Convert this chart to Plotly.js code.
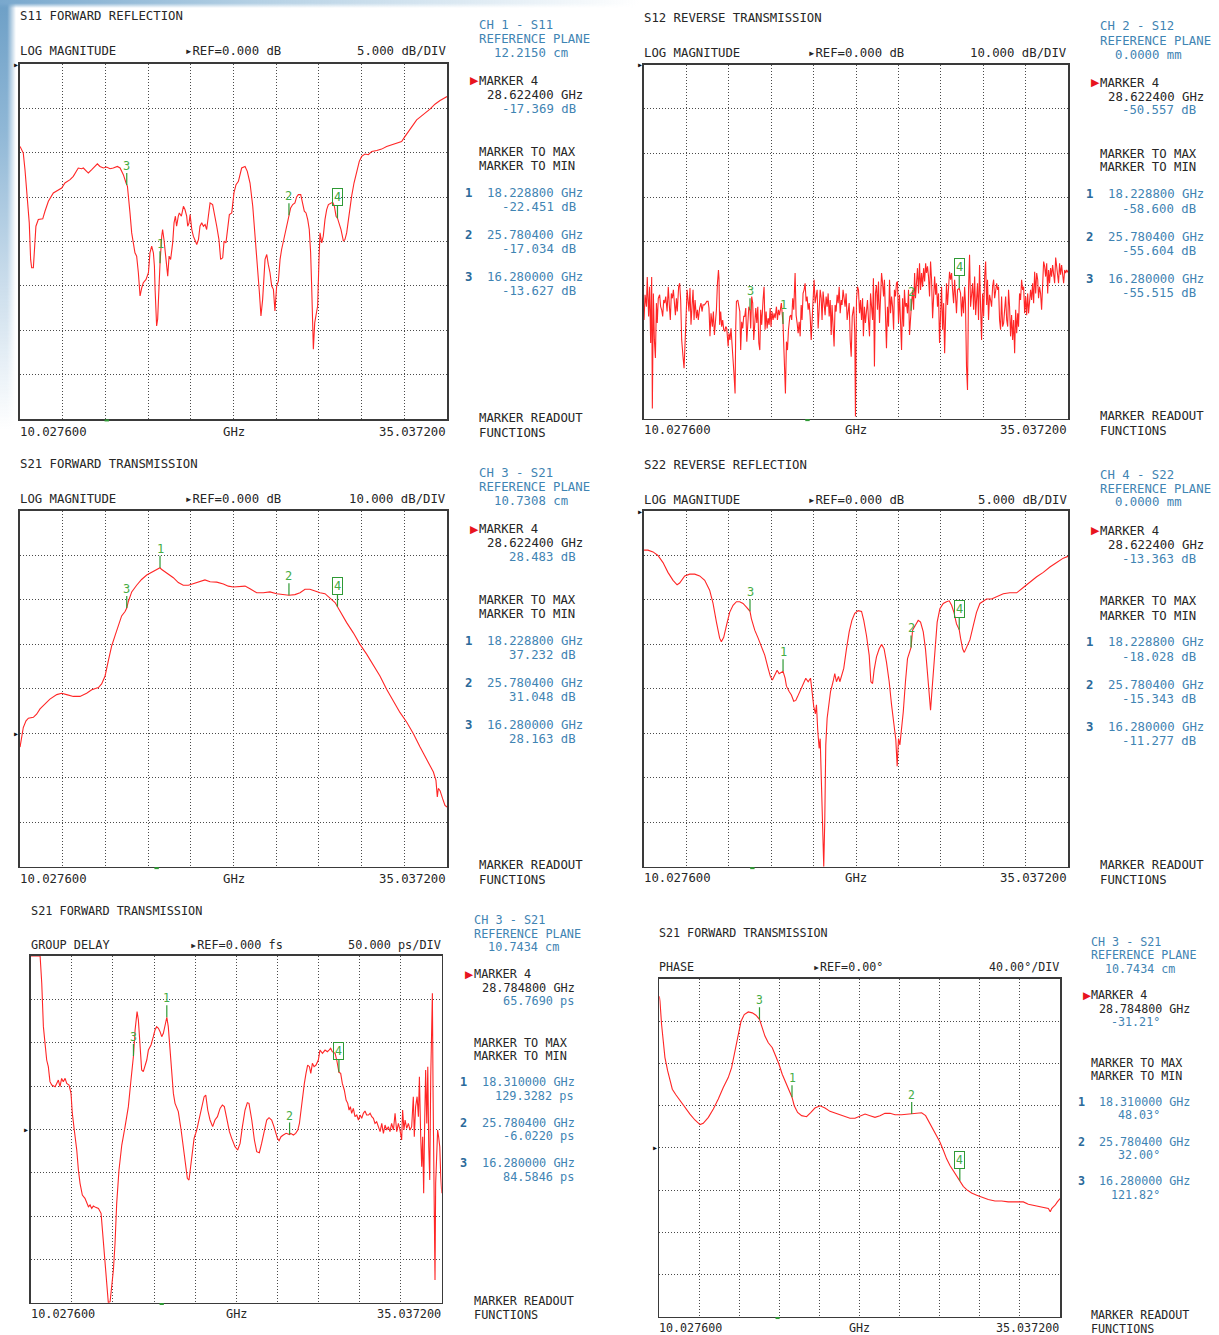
<!DOCTYPE html>
<html>
<head>
<meta charset="utf-8">
<script src="https://cdn.plot.ly/plotly-3.0.1.min.js"></script>
<style>
  html, body { margin: 0; padding: 0; background: #ffffff; }
  body { width: 1219px; height: 1335px; overflow: hidden; position: relative; }
  #bgLeft {
    position: absolute; left: 0; top: 0; width: 16px; height: 430px;
    background: linear-gradient(to bottom, #6d9fc6 0%, #8fb7d6 30%, #c9dceb 65%, rgba(255,255,255,0) 100%);
    -webkit-mask-image: linear-gradient(to right, #000 45%, rgba(0,0,0,0) 100%);
    mask-image: linear-gradient(to right, #000 45%, rgba(0,0,0,0) 100%);
  }
  #bgTop {
    position: absolute; left: 0; top: 0; width: 640px; height: 8px;
    background: linear-gradient(to right, #79a8cd 0%, #b4d0e4 40%, rgba(255,255,255,0) 100%);
    -webkit-mask-image: linear-gradient(to bottom, #000 40%, rgba(0,0,0,0) 100%);
    mask-image: linear-gradient(to bottom, #000 40%, rgba(0,0,0,0) 100%);
  }
  #chart { position: absolute; left: 0; top: 0; width: 1219px; height: 1335px; }
</style>
</head>
<body>
<div id="bgLeft"></div>
<div id="bgTop"></div>
<div id="chart"></div>
<script>
// ---- Sweep (GHz) ----
const sweepGHz = [10.0276, 35.0372];

// ---- Measured traces: [frequency GHz, value] ----
const s11 = [[10.03,-9.29],[10.22,-10.04],[10.32,-11.91],[10.46,-15.28],[10.57,-17.90],[10.65,-22.02],[10.71,-22.96],[10.81,-22.96],[10.91,-19.78],[10.96,-18.28],[11.10,-17.53],[11.36,-17.45],[11.49,-16.59],[11.69,-15.47],[11.98,-14.53],[12.27,-14.16],[12.47,-13.97],[12.66,-13.41],[12.96,-13.03],[13.15,-12.66],[13.44,-11.72],[13.64,-11.80],[13.74,-11.72],[13.93,-12.10],[14.03,-12.28],[14.23,-11.91],[14.42,-11.54],[14.56,-11.24],[14.71,-11.54],[14.91,-11.72],[15.10,-11.61],[15.30,-11.80],[15.49,-11.72],[15.73,-11.54],[15.89,-11.72],[16.08,-12.47],[16.24,-13.41],[16.28,-13.627],[16.32,-13.78],[16.47,-16.78],[16.57,-19.03],[16.76,-21.27],[16.86,-21.65],[16.96,-23.52],[17.06,-26.14],[17.16,-25.21],[17.25,-24.64],[17.41,-24.27],[17.55,-23.52],[17.64,-21.27],[17.74,-20.52],[17.84,-21.27],[17.90,-22.77],[17.94,-25.39],[18.00,-27.27],[18.03,-29.51],[18.09,-28.76],[18.19,-22.77],[18.2288,-22.451],[18.33,-19.40],[18.38,-18.65],[18.46,-19.78],[18.54,-21.27],[18.62,-22.02],[18.68,-23.90],[18.76,-21.65],[18.85,-22.02],[18.97,-20.15],[19.05,-17.90],[19.13,-17.15],[19.20,-18.28],[19.30,-17.15],[19.36,-16.78],[19.48,-17.15],[19.60,-16.03],[19.69,-16.40],[19.79,-17.15],[19.85,-18.28],[19.93,-17.90],[19.99,-16.97],[20.09,-18.65],[20.18,-19.40],[20.28,-19.78],[20.38,-20.34],[20.48,-19.78],[20.57,-18.28],[20.67,-17.90],[20.77,-18.28],[20.87,-18.09],[20.96,-18.65],[21.06,-17.15],[21.16,-15.66],[21.31,-15.84],[21.41,-16.78],[21.55,-18.28],[21.68,-19.78],[21.78,-22.02],[21.90,-21.84],[21.98,-19.96],[22.09,-20.15],[22.17,-19.03],[22.29,-16.97],[22.43,-16.78],[22.56,-14.53],[22.68,-13.60],[22.82,-13.22],[23.01,-11.72],[23.21,-11.54],[23.34,-12.10],[23.50,-13.41],[23.66,-16.03],[23.79,-19.03],[23.93,-22.77],[24.05,-25.77],[24.14,-28.39],[24.24,-26.52],[24.38,-22.02],[24.48,-21.46],[24.57,-22.58],[24.67,-23.52],[24.77,-25.02],[24.87,-25.39],[24.96,-27.83],[25.06,-25.02],[25.16,-24.46],[25.26,-22.02],[25.35,-20.90],[25.45,-19.96],[25.55,-19.40],[25.65,-18.28],[25.7804,-17.034],[25.88,-16.22],[26.00,-15.84],[26.13,-15.66],[26.23,-14.98],[26.33,-14.72],[26.47,-14.72],[26.58,-15.66],[26.68,-16.59],[26.78,-16.78],[26.88,-17.53],[26.97,-18.65],[27.05,-21.27],[27.11,-25.02],[27.17,-29.51],[27.21,-32.13],[27.29,-29.14],[27.36,-28.39],[27.46,-27.27],[27.54,-22.02],[27.60,-19.03],[27.70,-20.15],[27.79,-19.40],[27.89,-17.53],[27.99,-16.40],[28.09,-15.84],[28.22,-15.66],[28.34,-15.58],[28.44,-16.03],[28.54,-17.15],[28.6224,-17.369],[28.73,-18.09],[28.83,-18.65],[28.97,-19.96],[29.06,-19.78],[29.16,-19.03],[29.26,-17.53],[29.36,-16.03],[29.45,-14.91],[29.59,-13.41],[29.75,-12.28],[29.90,-10.97],[30.04,-10.41],[30.23,-10.15],[30.43,-10.22],[30.63,-9.85],[30.92,-9.74],[31.21,-9.59],[31.50,-9.29],[31.80,-9.10],[32.09,-8.99],[32.38,-8.73],[32.58,-8.16],[32.77,-7.60],[32.97,-7.04],[33.26,-6.29],[33.46,-5.99],[33.75,-5.54],[34.04,-5.09],[34.33,-4.53],[34.63,-4.12],[35.04,-3.67]];

const s12 = [[10.03,-57.7],[10.09,-52.0],[10.17,-54.7],[10.22,-48.0],[10.30,-56.9],[10.36,-50.2],[10.42,-62.9],[10.48,-48.0],[10.52,-77.7],[10.58,-51.7],[10.64,-62.2],[10.70,-66.3],[10.76,-53.9],[10.81,-58.4],[10.87,-52.8],[10.95,-52.0],[11.01,-54.7],[11.07,-55.4],[11.13,-56.9],[11.19,-53.2],[11.25,-53.9],[11.31,-52.4],[11.39,-55.8],[11.46,-50.2],[11.52,-54.3],[11.58,-57.7],[11.64,-51.7],[11.70,-52.8],[11.76,-50.9],[11.82,-53.9],[11.88,-56.6],[11.94,-52.8],[11.99,-55.8],[12.07,-50.2],[12.13,-49.4],[12.19,-53.2],[12.25,-62.2],[12.33,-66.0],[12.39,-68.6],[12.45,-62.9],[12.51,-54.7],[12.57,-50.9],[12.63,-53.5],[12.68,-55.8],[12.74,-50.5],[12.80,-58.8],[12.86,-54.7],[12.92,-50.9],[12.98,-57.7],[13.04,-53.2],[13.12,-57.3],[13.18,-55.4],[13.23,-57.7],[13.31,-55.0],[13.39,-53.9],[13.45,-55.8],[13.51,-54.3],[13.59,-54.3],[13.67,-53.9],[13.73,-53.5],[13.81,-53.5],[13.86,-55.0],[13.92,-61.4],[13.98,-56.2],[14.06,-59.2],[14.12,-55.8],[14.18,-61.1],[14.24,-57.7],[14.30,-55.4],[14.36,-49.4],[14.42,-46.4],[14.45,-48.3],[14.49,-58.8],[14.55,-55.8],[14.61,-59.2],[14.67,-57.7],[14.73,-59.9],[14.79,-60.3],[14.85,-59.2],[14.91,-59.6],[14.99,-63.7],[15.04,-60.7],[15.10,-62.2],[15.16,-59.6],[15.22,-64.5],[15.28,-66.7],[15.34,-70.1],[15.40,-74.3],[15.44,-59.2],[15.48,-53.5],[15.56,-53.2],[15.62,-54.7],[15.68,-55.8],[15.73,-64.5],[15.79,-58.1],[15.85,-59.6],[15.91,-56.9],[15.97,-56.9],[16.03,-55.0],[16.09,-62.6],[16.15,-56.6],[16.21,-54.7],[16.28,-55.515],[16.32,-59.6],[16.38,-52.4],[16.44,-53.9],[16.50,-62.2],[16.56,-56.9],[16.62,-55.0],[16.68,-58.4],[16.74,-54.7],[16.80,-62.9],[16.86,-64.5],[16.91,-55.4],[16.97,-58.8],[17.05,-53.2],[17.11,-50.2],[17.17,-59.9],[17.23,-55.8],[17.29,-59.6],[17.35,-57.3],[17.41,-58.8],[17.47,-55.0],[17.52,-59.2],[17.58,-55.8],[17.64,-57.7],[17.70,-56.2],[17.76,-57.3],[17.84,-54.7],[17.90,-57.7],[17.96,-55.4],[18.02,-56.6],[18.07,-55.4],[18.13,-53.9],[18.2288,-58.6],[18.31,-66.7],[18.37,-74.3],[18.43,-62.6],[18.49,-64.5],[18.55,-59.9],[18.63,-56.9],[18.69,-56.6],[18.74,-57.7],[18.80,-52.8],[18.86,-55.4],[18.94,-47.1],[19.00,-56.6],[19.06,-58.4],[19.12,-60.7],[19.18,-58.1],[19.24,-61.4],[19.30,-54.3],[19.35,-57.7],[19.41,-51.7],[19.47,-50.9],[19.53,-49.4],[19.59,-53.5],[19.65,-52.4],[19.71,-55.4],[19.77,-53.9],[19.83,-56.9],[19.89,-62.2],[19.94,-57.7],[20.00,-55.0],[20.06,-48.6],[20.12,-53.9],[20.18,-52.4],[20.24,-50.9],[20.30,-59.6],[20.36,-55.4],[20.42,-50.9],[20.48,-52.8],[20.53,-57.7],[20.59,-51.3],[20.65,-53.5],[20.71,-56.6],[20.77,-52.4],[20.83,-54.7],[20.89,-51.7],[20.95,-56.9],[21.01,-53.2],[21.07,-61.1],[21.12,-54.3],[21.18,-58.4],[21.24,-63.7],[21.30,-54.3],[21.36,-55.8],[21.42,-52.0],[21.48,-53.9],[21.54,-50.2],[21.60,-56.2],[21.66,-53.2],[21.71,-54.3],[21.77,-50.9],[21.83,-53.9],[21.89,-54.7],[21.95,-51.7],[22.01,-57.7],[22.07,-55.8],[22.13,-53.9],[22.19,-62.2],[22.25,-66.0],[22.31,-56.9],[22.36,-55.8],[22.40,-54.7],[22.46,-60.7],[22.50,-79.5],[22.56,-53.2],[22.62,-50.2],[22.68,-50.9],[22.74,-56.2],[22.80,-53.2],[22.86,-57.7],[22.92,-52.8],[22.97,-61.4],[23.03,-54.7],[23.09,-58.4],[23.15,-55.8],[23.21,-53.2],[23.27,-57.7],[23.33,-61.4],[23.39,-51.7],[23.45,-55.4],[23.51,-57.7],[23.56,-48.3],[23.62,-68.2],[23.68,-51.7],[23.74,-49.8],[23.80,-55.4],[23.86,-49.0],[23.92,-58.4],[23.98,-50.2],[24.04,-47.1],[24.10,-49.4],[24.16,-52.4],[24.21,-48.6],[24.27,-58.4],[24.33,-64.1],[24.39,-54.7],[24.45,-59.2],[24.51,-48.6],[24.57,-56.2],[24.63,-52.4],[24.69,-54.7],[24.75,-59.9],[24.80,-50.9],[24.86,-52.4],[24.92,-49.4],[24.98,-49.0],[25.04,-58.4],[25.10,-52.0],[25.16,-57.7],[25.22,-64.5],[25.28,-52.8],[25.34,-59.2],[25.39,-50.9],[25.45,-54.7],[25.51,-53.9],[25.57,-56.2],[25.63,-50.9],[25.69,-61.1],[25.7804,-55.604],[25.87,-50.9],[25.93,-55.4],[25.99,-47.1],[26.04,-52.8],[26.10,-48.6],[26.16,-46.0],[26.22,-51.7],[26.28,-44.9],[26.34,-50.9],[26.40,-47.1],[26.46,-50.2],[26.52,-46.0],[26.58,-49.0],[26.64,-44.9],[26.69,-47.1],[26.75,-45.6],[26.81,-47.9],[26.87,-52.4],[26.93,-44.5],[26.99,-48.6],[27.05,-57.3],[27.11,-52.8],[27.17,-47.9],[27.23,-52.0],[27.28,-49.4],[27.34,-54.7],[27.40,-51.7],[27.46,-62.9],[27.52,-55.4],[27.58,-50.2],[27.64,-59.9],[27.70,-53.9],[27.76,-65.2],[27.82,-54.7],[27.87,-49.4],[27.93,-54.3],[27.99,-50.2],[28.05,-46.8],[28.11,-48.6],[28.17,-47.1],[28.23,-50.9],[28.29,-53.9],[28.35,-48.6],[28.41,-54.7],[28.46,-56.2],[28.52,-50.9],[28.58,-50.5],[28.6224,-50.557],[28.70,-51.7],[28.76,-56.9],[28.82,-52.4],[28.88,-56.2],[28.94,-50.2],[28.99,-53.9],[29.05,-68.2],[29.11,-73.5],[29.17,-50.9],[29.23,-43.0],[29.29,-54.7],[29.35,-50.9],[29.41,-49.4],[29.47,-55.4],[29.53,-47.9],[29.59,-56.6],[29.65,-52.0],[29.70,-49.4],[29.76,-57.7],[29.82,-45.3],[29.88,-54.7],[29.94,-62.2],[30.00,-51.7],[30.06,-56.9],[30.12,-47.9],[30.18,-44.5],[30.24,-54.3],[30.29,-48.6],[30.35,-57.7],[30.41,-52.0],[30.47,-53.2],[30.53,-54.7],[30.59,-50.2],[30.65,-48.6],[30.71,-52.8],[30.77,-50.2],[30.83,-49.4],[30.89,-50.9],[30.94,-50.2],[31.00,-57.7],[31.06,-59.9],[31.12,-52.4],[31.18,-59.2],[31.24,-58.4],[31.30,-54.7],[31.36,-52.4],[31.42,-57.7],[31.48,-59.2],[31.53,-50.9],[31.59,-54.7],[31.65,-61.4],[31.71,-56.6],[31.77,-62.2],[31.83,-57.7],[31.89,-65.2],[31.95,-55.4],[32.01,-60.7],[32.07,-56.2],[32.12,-59.2],[32.18,-51.7],[32.24,-53.2],[32.30,-48.6],[32.36,-50.9],[32.42,-50.2],[32.48,-56.2],[32.54,-52.4],[32.60,-56.6],[32.66,-51.7],[32.71,-56.2],[32.77,-53.9],[32.83,-50.9],[32.89,-53.2],[32.95,-49.4],[33.01,-53.9],[33.07,-46.8],[33.13,-51.7],[33.19,-47.1],[33.25,-48.6],[33.30,-52.8],[33.36,-50.2],[33.42,-51.7],[33.48,-55.4],[33.54,-47.9],[33.60,-44.5],[33.66,-45.6],[33.72,-47.9],[33.78,-44.9],[33.84,-51.7],[33.89,-46.4],[33.95,-49.4],[34.01,-46.0],[34.07,-47.9],[34.13,-45.3],[34.19,-48.3],[34.25,-49.4],[34.31,-43.6],[34.37,-46.0],[34.43,-46.8],[34.48,-49.4],[34.54,-44.9],[34.60,-47.5],[34.66,-45.3],[34.72,-47.1],[34.78,-49.4],[34.84,-46.4],[34.90,-47.1],[34.96,-46.4],[35.04,-47.0]];

const s21 = [[10.03,-3.1],[10.12,-0.9],[10.22,1.3],[10.38,2.8],[10.52,3.4],[10.81,3.6],[11.00,4.3],[11.20,5.5],[11.49,6.7],[11.78,7.7],[12.18,8.7],[12.47,9.0],[12.76,8.7],[13.15,8.3],[13.54,8.3],[13.93,9.0],[14.23,9.8],[14.62,10.3],[14.81,11.1],[15.01,12.9],[15.20,16.3],[15.40,19.7],[15.59,21.9],[15.79,24.5],[15.98,26.4],[16.18,27.4],[16.28,28.163],[16.37,29.6],[16.57,31.8],[16.86,33.3],[17.15,34.6],[17.45,35.6],[17.84,36.5],[18.2288,37.232],[18.31,36.9],[18.62,36.1],[19.01,35.0],[19.30,33.9],[19.59,33.3],[19.89,33.3],[20.18,33.7],[20.57,34.2],[20.86,34.5],[21.16,34.1],[21.55,34.0],[21.94,33.6],[22.23,33.1],[22.52,32.9],[22.91,33.0],[23.21,33.1],[23.50,32.5],[23.89,31.6],[24.28,31.6],[24.67,31.8],[25.06,31.4],[25.45,31.2],[25.7804,31.048],[26.13,31.2],[26.43,31.6],[26.72,32.4],[27.01,32.4],[27.31,32.0],[27.60,31.6],[27.89,31.4],[28.18,30.5],[28.48,29.4],[28.6224,28.483],[28.87,26.8],[29.16,24.9],[29.55,22.6],[29.94,20.0],[30.33,17.8],[30.72,15.5],[31.11,12.9],[31.50,9.9],[31.89,7.3],[32.28,4.7],[32.68,2.5],[33.07,-0.1],[33.46,-3.1],[33.85,-5.8],[34.24,-8.7],[34.39,-10.6],[34.47,-14.3],[34.53,-12.4],[34.63,-12.9],[34.78,-14.7],[34.92,-16.2],[35.04,-16.6]];

const s22 = [[10.03,-4.4],[10.26,-4.4],[10.56,-4.6],[10.85,-5.0],[11.15,-5.8],[11.44,-6.9],[11.74,-7.8],[11.98,-8.3],[12.13,-8.1],[12.43,-7.3],[12.72,-7.1],[13.02,-7.1],[13.31,-7.3],[13.61,-7.8],[13.90,-8.9],[14.10,-10.4],[14.30,-12.5],[14.49,-14.3],[14.59,-14.7],[14.73,-14.2],[14.89,-12.9],[15.08,-11.4],[15.28,-10.6],[15.48,-10.2],[15.67,-10.2],[15.87,-10.4],[16.07,-10.8],[16.28,-11.277],[16.36,-12.1],[16.56,-13.4],[16.76,-14.3],[16.95,-15.3],[17.15,-16.2],[17.35,-17.7],[17.48,-18.6],[17.60,-19.0],[17.74,-18.5],[17.88,-17.9],[18.00,-18.3],[18.12,-18.1],[18.2288,-18.028],[18.35,-18.8],[18.43,-19.7],[18.59,-20.3],[18.72,-20.7],[18.86,-21.4],[18.98,-21.3],[19.08,-20.9],[19.22,-20.3],[19.35,-19.7],[19.45,-19.2],[19.57,-18.8],[19.71,-19.2],[19.85,-18.8],[19.94,-20.3],[20.04,-22.0],[20.14,-22.8],[20.20,-21.8],[20.28,-24.8],[20.36,-26.7],[20.42,-25.6],[20.48,-30.0],[20.53,-33.4],[20.59,-37.5],[20.63,-40.0],[20.69,-34.9],[20.75,-26.3],[20.83,-23.3],[20.93,-21.8],[21.03,-20.3],[21.18,-19.2],[21.28,-18.3],[21.38,-19.2],[21.50,-18.6],[21.58,-19.2],[21.68,-18.5],[21.81,-17.7],[21.97,-15.5],[22.13,-13.6],[22.29,-12.3],[22.46,-11.5],[22.66,-11.2],[22.86,-11.3],[22.99,-12.3],[23.15,-14.0],[23.31,-16.2],[23.41,-19.2],[23.51,-19.4],[23.60,-17.9],[23.74,-16.4],[23.90,-15.5],[24.04,-15.0],[24.19,-15.5],[24.33,-17.0],[24.49,-19.2],[24.63,-21.8],[24.76,-23.7],[24.88,-25.7],[24.96,-28.7],[25.04,-25.6],[25.12,-26.3],[25.20,-24.8],[25.32,-22.6],[25.45,-19.2],[25.57,-16.6],[25.7804,-15.343],[25.87,-13.4],[26.02,-12.9],[26.20,-12.3],[26.34,-12.5],[26.50,-13.6],[26.63,-15.5],[26.75,-18.1],[26.85,-20.3],[26.93,-22.4],[27.01,-20.3],[27.09,-18.5],[27.20,-15.1],[27.32,-12.5],[27.48,-11.0],[27.68,-10.4],[27.87,-10.2],[28.03,-10.1],[28.17,-10.6],[28.31,-11.4],[28.46,-12.7],[28.6224,-13.363],[28.70,-14.3],[28.82,-15.5],[28.92,-15.9],[29.05,-15.3],[29.25,-14.5],[29.45,-12.9],[29.64,-11.4],[29.84,-10.4],[30.04,-10.1],[30.23,-9.9],[30.53,-9.9],[30.83,-9.6],[31.22,-9.3],[31.61,-9.2],[32.01,-9.2],[32.40,-8.6],[32.79,-8.0],[33.19,-7.4],[33.58,-6.9],[33.97,-6.3],[34.37,-5.8],[34.76,-5.3],[35.04,-5.1]];

// group delay in ps (display limited to +/-200 ps)
const s21Delay = [[10.03,200],[10.60,200],[10.70,168.5],[10.80,118.5],[10.90,99.2],[11.00,80.0],[11.10,72.3],[11.20,55.0],[11.31,51.2],[11.51,49.2],[11.61,53.0],[11.71,56.9],[11.81,49.2],[11.91,58.8],[12.01,55.0],[12.12,58.8],[12.22,53.0],[12.36,51.2],[12.48,41.5],[12.56,18.5],[12.68,-0.8],[12.83,-23.8],[12.93,-46.9],[13.03,-62.3],[13.17,-75.8],[13.33,-79.6],[13.54,-89.2],[13.64,-87.3],[13.74,-91.2],[13.84,-88.5],[13.98,-90.0],[14.15,-91.2],[14.31,-96.9],[14.45,-131.5],[14.55,-158.5],[14.65,-185.4],[14.75,-200],[14.86,-198.8],[14.96,-177.7],[15.06,-162.3],[15.16,-131.5],[15.26,-85.4],[15.40,-46.9],[15.57,-18.1],[15.77,3.1],[15.97,26.2],[16.13,56.9],[16.28,84.5846],[16.38,114.6],[16.50,135.8],[16.58,126.2],[16.68,95.4],[16.78,68.5],[16.88,66.5],[16.98,72.3],[17.09,80.0],[17.19,91.5],[17.35,97.3],[17.49,106.9],[17.59,114.6],[17.69,118.5],[17.80,116.5],[17.90,112.7],[18.00,106.9],[18.10,110.8],[18.20,118.5],[18.31,129.3282],[18.40,118.5],[18.51,91.5],[18.61,64.6],[18.71,41.5],[18.81,30.0],[19.01,20.4],[19.18,-0.8],[19.32,-20.0],[19.46,-39.2],[19.56,-56.5],[19.66,-58.5],[19.82,-35.4],[19.97,-10.4],[20.13,-0.8],[20.27,10.8],[20.43,22.3],[20.58,37.7],[20.68,39.6],[20.80,22.3],[20.94,10.8],[21.10,3.1],[21.24,10.8],[21.39,14.6],[21.55,24.2],[21.69,28.1],[21.81,26.2],[21.95,12.7],[22.12,-2.7],[22.26,-10.4],[22.46,-20.0],[22.62,-23.8],[22.77,-16.2],[22.91,3.1],[23.07,22.3],[23.21,30.8],[23.31,30.0],[23.48,10.8],[23.64,-12.3],[23.78,-25.8],[23.94,-26.9],[24.08,-16.2],[24.25,-2.7],[24.39,10.8],[24.53,13.5],[24.69,10.8],[24.83,3.1],[24.94,-4.6],[25.04,-10.4],[25.14,-13.1],[25.26,-8.5],[25.40,-6.5],[25.57,-4.6],[25.7804,-6.022],[25.85,-4.6],[26.01,-6.5],[26.15,-4.6],[26.28,-0.8],[26.38,6.9],[26.48,22.3],[26.58,41.5],[26.68,53.0],[26.78,64.6],[26.88,74.2],[26.99,72.3],[27.07,64.6],[27.17,76.2],[27.27,72.3],[27.39,74.2],[27.53,80.0],[27.63,91.5],[27.78,87.7],[27.94,91.5],[28.08,89.6],[28.18,91.5],[28.28,93.5],[28.38,89.6],[28.55,87.7],[28.65,80.0],[28.7848,65.769],[28.89,64.6],[28.99,53.0],[29.11,45.4],[29.22,33.8],[29.32,30.0],[29.40,22.3],[29.48,26.2],[29.56,18.5],[29.66,24.2],[29.76,14.6],[29.87,16.5],[29.97,10.8],[30.07,16.5],[30.17,12.7],[30.27,18.5],[30.37,21.2],[30.47,16.5],[30.58,16.5],[30.68,18.5],[30.78,14.6],[30.88,12.7],[30.98,6.9],[31.08,8.8],[31.18,3.1],[31.29,-2.7],[31.39,6.9],[31.49,-4.6],[31.59,5.0],[31.69,-0.8],[31.79,3.1],[31.89,-2.7],[31.99,6.9],[32.10,-0.8],[32.20,18.5],[32.30,-2.7],[32.40,6.9],[32.50,-0.8],[32.60,-12.3],[32.66,22.3],[32.74,-0.8],[32.81,10.8],[32.91,1.2],[33.01,6.9],[33.11,-0.8],[33.21,3.1],[33.31,37.7],[33.37,-8.5],[33.45,26.2],[33.54,37.7],[33.62,14.6],[33.68,60.8],[33.76,-8.5],[33.82,-43.1],[33.88,-8.5],[33.94,-73.8],[34.00,6.9],[34.06,68.5],[34.13,6.9],[34.19,72.3],[34.25,-20.0],[34.31,-58.5],[34.37,60.8],[34.43,118.5],[34.47,156.9],[34.51,45.4],[34.55,-70.0],[34.59,-139.2],[34.63,-173.8],[34.67,-62.3],[34.73,-23.8],[34.79,-0.8],[34.85,-8.5],[34.92,-20.0],[34.98,-54.6],[35.04,-73.8]];

// phase in degrees
const s21Phase = [[10.03,143.6],[10.07,138.9],[10.17,116.9],[10.28,98.0],[10.38,85.5],[10.55,72.9],[10.69,63.5],[10.84,55.6],[11.05,50.5],[11.32,44.6],[11.63,38.3],[11.94,32.0],[12.25,26.4],[12.57,22.0],[12.77,23.3],[13.09,28.9],[13.40,36.8],[13.71,46.2],[14.02,57.2],[14.33,66.6],[14.54,76.0],[14.75,91.8],[14.96,109.0],[15.13,120.0],[15.33,126.3],[15.58,128.8],[15.83,127.9],[16.06,125.7],[16.28,121.82],[16.46,112.2],[16.62,105.9],[16.83,99.6],[17.08,94.9],[17.29,87.0],[17.50,79.2],[17.70,69.8],[17.91,61.9],[18.12,55.6],[18.31,48.03],[18.45,39.9],[18.66,33.6],[18.91,30.5],[19.22,29.5],[19.49,33.6],[19.74,37.7],[20.06,39.9],[20.37,37.7],[20.68,34.6],[20.99,33.0],[21.29,32.0],[21.62,29.9],[21.93,28.0],[22.24,28.0],[22.55,29.9],[22.87,32.0],[23.18,30.5],[23.49,28.9],[23.80,30.5],[24.11,32.7],[24.43,32.7],[24.74,31.4],[25.15,31.4],[25.47,32.0],[25.7804,32.00],[26.09,33.0],[26.40,33.3],[26.65,30.5],[26.92,22.6],[27.23,13.2],[27.55,5.3],[27.76,-2.5],[27.96,-10.4],[28.17,-16.7],[28.38,-22.0],[28.59,-26.7],[28.7848,-31.21],[29.00,-36.5],[29.21,-39.6],[29.52,-42.7],[29.84,-44.9],[30.15,-46.5],[30.56,-49.0],[30.98,-50.3],[31.40,-50.3],[31.81,-51.2],[32.12,-51.2],[32.44,-51.8],[32.75,-51.2],[33.06,-53.4],[33.37,-54.4],[33.68,-55.3],[33.99,-56.6],[34.31,-57.5],[34.43,-60.6],[34.52,-57.5],[34.62,-55.9],[34.73,-54.4],[34.87,-51.2],[35.04,-48.1]];

// ---- Markers 1..4 (frequency GHz, value) ----
const s11MarkerGHz = [18.2288, 25.7804, 16.28, 28.6224];
const s11MarkerVal = [-22.451, -17.034, -13.627, -17.369];
const s12MarkerGHz = [18.2288, 25.7804, 16.28, 28.6224];
const s12MarkerVal = [-58.600, -55.604, -55.515, -50.557];
const s21MarkerGHz = [18.2288, 25.7804, 16.28, 28.6224];
const s21MarkerVal = [37.232, 31.048, 28.163, 28.483];
const s22MarkerGHz = [18.2288, 25.7804, 16.28, 28.6224];
const s22MarkerVal = [-18.028, -15.343, -11.277, -13.363];
const delayMarkerGHz = [18.31, 25.7804, 16.28, 28.7848];
const delayMarkerVal = [129.3282, -6.0220, 84.5846, 65.7690];
const phaseMarkerGHz = [18.31, 25.7804, 16.28, 28.7848];
const phaseMarkerVal = [48.03, 32.00, 121.82, -31.21];

// ---- Channel texts ----
const titles = ['S11 FORWARD REFLECTION', 'S12 REVERSE TRANSMISSION', 'S21 FORWARD TRANSMISSION', 'S22 REVERSE REFLECTION', 'S21 FORWARD TRANSMISSION', 'S21 FORWARD TRANSMISSION'];
const formats = ['LOG MAGNITUDE', 'LOG MAGNITUDE', 'LOG MAGNITUDE', 'LOG MAGNITUDE', 'GROUP DELAY', 'PHASE'];
const refLabels = ['REF=0.000 dB', 'REF=0.000 dB', 'REF=0.000 dB', 'REF=0.000 dB', 'REF=0.000 fs', 'REF=0.00°'];
const refLevels = [0, 0, 0, 0, 0, 0];
const scaleLabels = ['5.000 dB/DIV', '10.000 dB/DIV', '10.000 dB/DIV', '5.000 dB/DIV', '50.000 ps/DIV', '40.00°/DIV'];
const channels = ['CH 1 - S11', 'CH 2 - S12', 'CH 3 - S21', 'CH 4 - S22', 'CH 3 - S21', 'CH 3 - S21'];
const refPlanes = ['12.2150 cm', '0.0000 mm', '10.7308 cm', '0.0000 mm', '10.7434 cm', '10.7434 cm'];
const units = [' dB', ' dB', ' dB', ' dB', ' ps', '°'];
const decimals = [3, 3, 3, 3, 4, 2];
const cursorGHz = [15.11, 19.67, 18.03, 16.42, 18.00, 17.41];

// ---- Page geometry ----
const W = 1219, H = 1335;
const FONT = 'DejaVu Sans Mono, Liberation Mono, monospace';
const DARK = '#262626', BLUE = '#3f84b3', NUMBLUE = '#2b6a9a';
const GREEN = '#2f9a35', GREENTXT = '#45ad45', TRACE = '#ff2626';
const BASE = 12.3;

const frames = [
  {box: [20, 64, 447, 419],      yRange: [-40, 0],     yDiv: 5,  head: {x: 20,  title: 16,  fmt: 51,  refX: 185, right: 446,  foot: 432},  side: {x: 479,  y: 25,    s: 1,     valR: 576,  rb: 418}},
  {box: [644, 64.5, 1068, 418.7], yRange: [-80, 0],    yDiv: 10, head: {x: 644, title: 18,  fmt: 53,  refX: 808, right: 1067, foot: 430},  side: {x: 1100, y: 26.5,  s: 1,     valR: 1196, rb: 416}},
  {box: [20, 511, 447, 866.7],   yRange: [-30, 50],    yDiv: 10, head: {x: 20,  title: 464, fmt: 499, refX: 185, right: 446,  foot: 879},  side: {x: 479,  y: 473,   s: 1,     valR: 576,  rb: 865}},
  {box: [644, 511, 1068, 866.7], yRange: [-40, 0],     yDiv: 5,  head: {x: 644, title: 465, fmt: 500, refX: 808, right: 1067, foot: 878},  side: {x: 1100, y: 474.5, s: 1,     valR: 1196, rb: 865}},
  {box: [30.7, 956, 441.7, 1302.7], yRange: [-200, 200], yDiv: 50, head: {x: 31, title: 911, fmt: 945, refX: 190, right: 441, foot: 1314}, side: {x: 474, y: 920, s: 0.965, valR: 574, rb: 1301}},
  {box: [659.3, 979, 1060, 1316.7], yRange: [-160, 160], yDiv: 40, head: {x: 659, title: 933, fmt: 967, refX: 813, right: 1059, foot: 1328}, side: {x: 1091, y: 942, s: 0.95, valR: 1160, rb: 1315}}
];

const traceSets = [s11, s12, s21, s22, s21Delay, s21Phase];
const markerGHz = [s11MarkerGHz, s12MarkerGHz, s21MarkerGHz, s22MarkerGHz, delayMarkerGHz, phaseMarkerGHz];
const markerVal = [s11MarkerVal, s12MarkerVal, s21MarkerVal, s22MarkerVal, delayMarkerVal, phaseMarkerVal];

const annotations = [];
const shapes = [];
const traces = [];
const layout = {
  width: W, height: H,
  margin: {l: 0, r: 0, t: 0, b: 0},
  paper_bgcolor: 'rgba(0,0,0,0)',
  plot_bgcolor: '#ffffff',
  showlegend: false,
  font: {family: FONT}
};

function label(x, y, s, opt) {
  opt = opt || {};
  annotations.push({
    xref: 'paper', yref: 'paper', x: x / W, y: 1 - y / H,
    text: s, showarrow: false,
    xanchor: opt.anchor || 'left', yanchor: 'middle',
    borderpad: 0, borderwidth: 0,
    font: {family: opt.family || FONT, size: opt.size || BASE, color: opt.color || DARK, weight: opt.weight || 'normal'}
  });
}

const axisStyle = {
  showgrid: true, gridcolor: '#4a4a4a', gridwidth: 1, griddash: '1px,2px',
  showline: true, linecolor: '#3a3a3a', linewidth: 1.6, mirror: true,
  zeroline: false, showticklabels: false, ticks: '', fixedrange: true
};

frames.forEach((p, i) => {
  const id = i ? String(i + 1) : '';
  const fs = BASE * p.side.s;
  layout['xaxis' + id] = Object.assign({}, axisStyle, {
    domain: [p.box[0] / W, p.box[2] / W], range: sweepGHz.slice(),
    tick0: sweepGHz[0], dtick: (sweepGHz[1] - sweepGHz[0]) / 10, anchor: 'y' + id
  });
  layout['yaxis' + id] = Object.assign({}, axisStyle, {
    domain: [1 - p.box[3] / H, 1 - p.box[1] / H], range: p.yRange.slice(),
    tick0: p.yRange[0], dtick: p.yDiv, anchor: 'x' + id
  });

  const d = traceSets[i];
  traces.push({
    type: 'scatter', mode: 'lines',
    x: d.map(v => v[0]), y: d.map(v => v[1]),
    xaxis: 'x' + id, yaxis: 'y' + id,
    line: {color: TRACE, width: 1.1}, hoverinfo: 'skip'
  });

  // marker flags on the trace
  markerGHz[i].forEach((f, k) => {
    const boxed = k === 3;
    annotations.push({
      xref: 'x' + id, yref: 'y' + id, x: f, y: markerVal[i][k],
      text: String(k + 1), showarrow: true, arrowhead: 0, arrowwidth: 1.2,
      arrowcolor: GREEN, ax: 0, ay: boxed ? -21 : -19, standoff: 0,
      bordercolor: boxed ? GREEN : 'rgba(0,0,0,0)', borderwidth: boxed ? 1 : 0, borderpad: boxed ? 1 : 0,
      font: {family: FONT, size: 12 * p.side.s, color: GREENTXT}
    });
  });

  // reference level pointer
  annotations.push({
    xref: 'paper', yref: 'y' + id, x: (p.box[0] - 0.5) / W, y: refLevels[i],
    xanchor: 'right', yanchor: 'middle', text: '▸', showarrow: false,
    borderpad: 0, font: {family: FONT, size: 10, color: '#111'}
  });

  // active-cursor tag on bottom edge
  shapes.push({
    type: 'line', xref: 'x' + id, yref: 'y' + id + ' domain',
    x0: cursorGHz[i] - 0.13, x1: cursorGHz[i] + 0.13, y0: -0.004, y1: -0.004,
    line: {color: GREEN, width: 2}
  });

  // header and footer
  const h = p.head;
  label(h.x, h.title, titles[i], {size: fs});
  label(h.x, h.fmt, formats[i], {size: fs});
  label(h.refX, h.fmt, '▸' + refLabels[i], {size: fs});
  label(h.right, h.fmt, scaleLabels[i], {size: fs, anchor: 'right'});
  label(h.x, h.foot, sweepGHz[0].toFixed(6), {size: fs});
  label((p.box[0] + p.box[2]) / 2, h.foot, 'GHz', {size: fs, anchor: 'center'});
  label(h.right, h.foot, sweepGHz[1].toFixed(6), {size: fs, anchor: 'right'});

  // side readout column
  const s = p.side, k = s.s;
  const row = off => s.y + off * k;
  const col = off => s.x + off * k;
  const fmtVal = v => v.toFixed(decimals[i]) + units[i];
  const fmtGHz = f => f.toFixed(6) + ' GHz';
  label(s.x, row(0), channels[i], {size: fs, color: BLUE});
  label(s.x, row(14), 'REFERENCE PLANE', {size: fs, color: BLUE});
  label(col(15), row(28), refPlanes[i], {size: fs, color: BLUE});
  label(col(-0.5), row(56), '▶', {size: 11 * k, color: '#e8141e', anchor: 'right', family: 'DejaVu Sans'});
  label(s.x, row(56), 'MARKER 4', {size: fs});
  label(col(8), row(70), fmtGHz(markerGHz[i][3]), {size: fs});
  label(s.valR, row(84), fmtVal(markerVal[i][3]), {size: fs, color: BLUE, anchor: 'right'});
  label(s.x, row(127), 'MARKER TO MAX', {size: fs});
  label(s.x, row(141), 'MARKER TO MIN', {size: fs});
  [0, 1, 2].forEach(m => {
    const r = 168 + 42 * m;
    label(col(-14), row(r), String(m + 1), {size: fs, color: NUMBLUE, weight: 'bold'});
    label(col(8), row(r), fmtGHz(markerGHz[i][m]), {size: fs, color: BLUE});
    label(s.valR, row(r + 14), fmtVal(markerVal[i][m]), {size: fs, color: BLUE, anchor: 'right'});
  });
  label(s.x, s.rb, 'MARKER READOUT', {size: fs});
  label(s.x, s.rb + 14.5 * k, 'FUNCTIONS', {size: fs});
});

layout.annotations = annotations;
layout.shapes = shapes;

Plotly.newPlot('chart', traces, layout, {displayModeBar: false, staticPlot: true});
</script>
</body>
</html>
